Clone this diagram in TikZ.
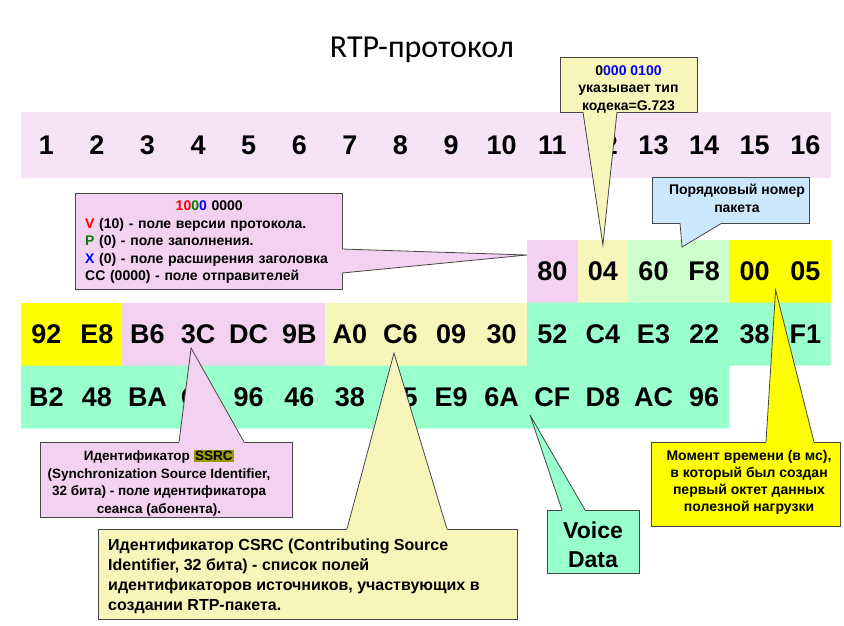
\documentclass[tikz,border=0pt]{standalone}
\usepackage{fontspec}
\setmainfont{Liberation Sans}
\newfontfamily\titlefont{Carlito}
\usetikzlibrary{calc}

\definecolor{rowpink}{RGB}{246,228,246}
\definecolor{cpink}{RGB}{242,210,240}
\definecolor{cltyellow}{RGB}{246,246,186}
\definecolor{cltgreen}{RGB}{204,255,204}
\definecolor{cyellow}{RGB}{255,255,0}
\definecolor{caqua}{RGB}{153,255,204}
\definecolor{cblue}{RGB}{204,232,255}
\definecolor{colive}{RGB}{153,153,0}
\definecolor{cgreen}{RGB}{0,128,0}
\definecolor{edgegray}{RGB}{70,70,70}

\tikzset{
  bytecell/.style={minimum width=50.6pt, minimum height=63pt, inner sep=0pt, outer sep=0pt,
    font=\fontsize{27}{32}\selectfont\bfseries},
  cbox/.style={draw=edgegray, line width=0.8pt, inner sep=0pt, outer sep=0pt},
  ctext/.style={inner sep=0pt, font=\fontsize{14}{17.5}\selectfont\bfseries},
  ptredge/.style={draw=edgegray, line width=0.8pt, line join=miter},
}

% pointer of a callout: fill colour, base point a, tip, base point b, shift into the box
\newcommand\calloutptr[5]{%
  \fill[#1] ($(#2)+(#5)$) -- (#2) -- (#3) -- (#4) -- ($(#4)+(#5)$) -- cycle;
  \draw[ptredge] (#2) -- (#3) -- (#4);
}

\begin{document}
\begin{tikzpicture}[x=1pt,y=-1pt]
\useasboundingbox (0,0) rectangle (844,625);

% title
\node[anchor=base, inner sep=0pt, font=\titlefont\fontsize{32}{38}\selectfont] (title) at (422,57.5) {RTP-протокол};

% ---- backgrounds of the byte rows ----
\fill[rowpink] (21,112) rectangle (830.6,178);
% row 2
\fill[cpink]     (527,239.5)   rectangle (577.6,302.5);
\fill[cltyellow] (577.6,239.5) rectangle (628.2,302.5);
\fill[cltgreen]  (628.2,239.5) rectangle (729.4,302.5);
\fill[cyellow]   (729.4,239.5) rectangle (830.6,302.5);
% row 3
\fill[cyellow]   (21,302.5)    rectangle (122.2,365.5);
\fill[cpink]     (122.2,302.5) rectangle (324.6,365.5);
\fill[cltyellow] (324.6,302.5) rectangle (527,365.5);
% payload area (rows 3 and 4)
\fill[caqua] (527,302.5) -- (830.6,302.5) -- (830.6,365.5) -- (729.4,365.5)
  -- (729.4,428.5) -- (21,428.5) -- (21,365.5) -- (527,365.5) -- cycle;

% ---- byte numbers ----
\foreach \k in {1,...,16}
  \node[bytecell] (n\k) at ({21+(\k-0.5)*50.6},145) {\k};

% ---- header bytes ----
\foreach \k/\t in {11/80,12/04,13/60,14/F8,15/00,16/05}
  \node[bytecell] (r2c\k) at ({21+(\k-0.5)*50.6},271) {\t};
\foreach \k/\t in {1/92,2/E8,3/B6,4/3C,5/DC,6/9B,7/A0,8/C6,9/09,10/30,11/52,12/C4,13/E3,14/22,15/38,16/F1}
  \node[bytecell] (r3c\k) at ({21+(\k-0.5)*50.6},334) {\t};
\foreach \k/\t in {1/B2,2/48,3/BA,4/C1,5/96,6/46,7/38,8/B5,9/E9,10/6A,11/CF,12/D8,13/AC,14/96}
  \node[bytecell] (r4c\k) at ({21+(\k-0.5)*50.6},397) {\t};

% ---- callout: payload type ----
\node[cbox, fill=cltyellow, minimum width=137pt, minimum height=55pt] (codec) at (628.5,84.5) {};
\coordinate (codec-a) at ($(codec.south west)+(23,0)$);
\coordinate (codec-b) at ($(codec.south west)+(57,0)$);
\coordinate (codec-tip) at ($(r2c12.north)+(0,5.5)$);
\calloutptr{cltyellow}{codec-a}{codec-tip}{codec-b}{0,-1.5}
\node[ctext, align=center] (codec-t) at (628.5,89.5)
  {0\textcolor{blue}{000 0100}\\указывает тип\\кодека=G.723};

% ---- callout: first header byte ----
\node[cbox, fill=cpink, minimum width=267pt, minimum height=96pt] (vpx) at (208.5,241) {};
\coordinate (vpx-a) at ($(vpx.north east)+(0,56)$);
\coordinate (vpx-b) at ($(vpx.north east)+(0,80)$);
\coordinate (vpx-tip) at ($(r2c11.west)+(0,-16)$);
\calloutptr{cpink}{vpx-a}{vpx-tip}{vpx-b}{-1.5,0}
\node[ctext, align=left, text width=248pt, anchor=north west] (vpx-t) at (85,201)
  {\makebox[\linewidth][c]{\textcolor{red}{10}\textcolor{cgreen}{0}\textcolor{blue}{0} 0000}\\
   \textcolor{red}{V} (10) - поле версии протокола.\\
   \textcolor{cgreen}{P} (0) - поле заполнения.\\
   \textcolor{blue}{X} (0) - поле расширения заголовка\\
   CC (0000) - поле отправителей};

% ---- callout: sequence number ----
\node[cbox, fill=cblue, minimum width=157pt, minimum height=46pt] (seq) at (730.5,200) {};
\coordinate (seq-a) at ($(seq.south west)+(28,0)$);
\coordinate (seq-b) at ($(seq.south west)+(70,0)$);
\coordinate (seq-tip) at ($(r2c13.north)+(28.5,7.5)$);
\calloutptr{cblue}{seq-a}{seq-tip}{seq-b}{0,-1.5}
\node[ctext, align=center] (seq-t) at (737,198.5) {Порядковый номер\\пакета};

% ---- callout: SSRC ----
\node[cbox, fill=cpink, minimum width=252pt, minimum height=75pt] (ssrc) at (166,479.5) {};
\coordinate (ssrc-a) at ($(ssrc.north west)+(139,0)$);
\coordinate (ssrc-b) at ($(ssrc.north west)+(204,0)$);
\coordinate (ssrc-tip) at ($(r3c4.center)+(-7,14)$);
\calloutptr{cpink}{ssrc-a}{ssrc-tip}{ssrc-b}{0,1.5}
\node[ctext, align=center, font=\fontsize{13.5}{17.5}\selectfont\bfseries] (ssrc-t) at (159,483)
  {Идентификатор {\setlength\fboxsep{1.5pt}\colorbox{colive}{SSRC}}\\
   (Synchronization Source Identifier,\\
   32 бита) - поле идентификатора\\
   сеанса (абонента).};

% ---- callout: CSRC ----
\node[cbox, fill=cltyellow, minimum width=419pt, minimum height=90pt] (csrc) at (307.5,574) {};
\coordinate (csrc-a) at ($(csrc.north west)+(249,0)$);
\coordinate (csrc-b) at ($(csrc.north west)+(349,0)$);
\coordinate (csrc-tip) at ($(r3c8.center)+(-6.5,19)$);
\calloutptr{cltyellow}{csrc-a}{csrc-tip}{csrc-b}{0,1.5}
\node[ctext, align=left, anchor=north west, font=\fontsize{16}{20}\selectfont\bfseries] (csrc-t) at (108,538.5)
  {Идентификатор CSRC (Contributing Source\\
   Identifier, 32 бита) - список полей\\
   идентификаторов источников, участвующих в\\
   создании RTP-пакета.};

% ---- callout: payload ----
\node[cbox, fill=caqua, minimum width=92pt, minimum height=63pt] (voice) at (593,541.5) {};
\coordinate (voice-a) at ($(voice.north west)+(15,0)$);
\coordinate (voice-b) at ($(voice.north west)+(38,0)$);
\coordinate (voice-tip) at ($(r4c11.south west)+(3,-13.5)$);
\calloutptr{caqua}{voice-a}{voice-tip}{voice-b}{0,1.5}
\node[ctext, align=center, font=\fontsize{23}{29}\selectfont\bfseries] (voice-t) at (593,544.5) {Voice\\Data};

% ---- callout: timestamp ----
\node[cbox, fill=cyellow, minimum width=189pt, minimum height=84pt] (time) at (745.5,484) {};
\coordinate (time-a) at ($(time.north west)+(115,0)$);
\coordinate (time-b) at ($(time.north west)+(163,0)$);
\coordinate (time-tip) at ($(r2c15.south east)+(-4.4,-12.5)$);
\calloutptr{cyellow}{time-a}{time-tip}{time-b}{0,1.5}
\node[ctext, align=center, font=\fontsize{14}{17}\selectfont\bfseries] (time-t) at (749,482)
  {Момент времени (в мс),\\в который был создан\\первый октет данных\\полезной нагрузки};

\end{tikzpicture}
\end{document}
